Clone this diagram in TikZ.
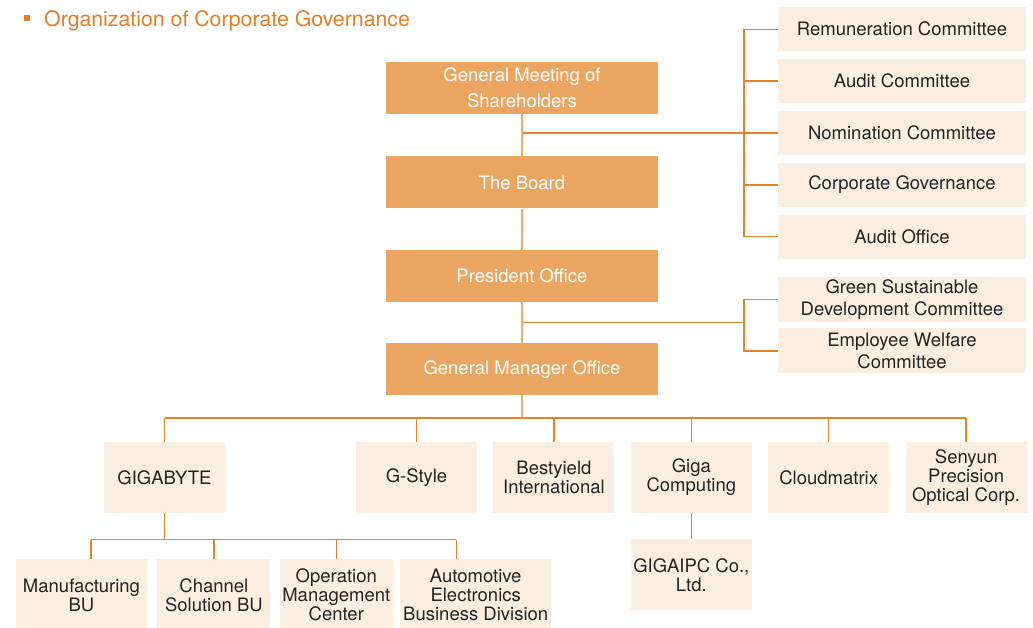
\documentclass[tikz,border=0pt]{standalone}
\usepackage{fontspec}
\setmainfont{TeX Gyre Heros}
\usetikzlibrary{positioning, calc}
\definecolor{govorange}{RGB}{231,125,35}
\definecolor{boxorange}{RGB}{234,166,96}
\definecolor{boxcream}{RGB}{251,238,225}
\definecolor{linkorange}{RGB}{228,130,42}
\definecolor{stemorange}{RGB}{236,172,104}
\definecolor{textgray}{RGB}{35,35,35}

\begin{document}
\begin{tikzpicture}[
    x=1pt, y=-1pt,
    node distance=8pt,
    office/.style={rectangle, fill=boxorange, text=white, minimum width=272pt, minimum height=52pt, inner sep=0pt, align=center, font=\fontsize{18.5}{26}\selectfont},
    committee/.style={rectangle, fill=boxcream, text=textgray, minimum width=248pt, minimum height=44.5pt, inner sep=0pt, align=center, font=\fontsize{18.5}{22}\selectfont},
    unit/.style={rectangle, fill=boxcream, text=textgray, minimum width=121pt, minimum height=71pt, inner sep=0pt, align=center, font=\fontsize{18.5}{19}\selectfont},
    stem/.style={stemorange, line width=1.6pt},
    branch/.style={linkorange, line width=1.3pt}
]
\useasboundingbox (0,0) rectangle (1033,628);

% heading
\fill[govorange] (23.5,15) rectangle (29.5,21);
\node[anchor=base west, inner sep=0pt, text=govorange, font=\fontsize{21.3}{21.3}\selectfont] (title) at (44,27) {Organization of Corporate Governance};

% main chain
\node[office] (gms) at (522,88) {General Meeting of\\Shareholders};
\node[office, below=42pt of gms] (board) {The Board};
\node[office, below=41pt of board] (president) {President Office};
\node[office, below=41pt of president] (gmo) {General Manager Office};

% committees under the board
\node[committee] (rem) at (902,29.25) {Remuneration Committee};
\node[committee, below=7pt of rem] (aud) {Audit Committee};
\node[committee, below=7pt of aud] (nom) {Nomination Committee};
\node[committee, below=7pt of nom] (cg) {Corporate Governance};
\node[committee, below=7pt of cg] (ao) {Audit Office};
\node[committee, minimum height=45pt] (green) at (902,299.5) {Green Sustainable\\Development Committee};
\node[committee, minimum height=45pt, below=6pt of green] (emp) {Employee Welfare\\Committee};

% subsidiaries
\node[unit] (gigabyte) at (164.5,477.5) {GIGABYTE};
\node[unit] (gstyle) at (416.5,477.5) {G-Style};
\node[unit, right=16pt of gstyle] (bestyield) {Bestyield\\International};
\node[unit, right=16pt of bestyield] (giga) {Giga\\Computing};
\node[unit, right=16pt of giga] (cloud) {Cloudmatrix};
\node[unit, right=16pt of cloud] (senyun) {Senyun\\Precision\\Optical Corp.};
\node[unit, below=26pt of giga] (gigaipc) {GIGAIPC Co.,\\Ltd.};

% business units of GIGABYTE
\node[unit, minimum width=131pt, minimum height=72pt] (mfg) at (81.5,595) {Manufacturing\\BU};
\node[unit, minimum width=113pt, minimum height=72pt, right=10pt of mfg] (channel) {Channel\\Solution BU};
\node[unit, minimum width=113pt, minimum height=72pt, right=9pt of channel] (operation) {Operation\\Management\\Center};
\node[unit, minimum width=151pt, minimum height=72pt, right=7pt of operation] (auto) {Automotive\\Electronics\\Business Division};

% connectors
\coordinate (cbar) at (744,0);
\coordinate (unitbus) at (0,418);
\coordinate (subbus) at (0,540);
\coordinate (gbranch) at ($(president.south)!.5!(gmo.north)$);

\draw[branch] (gms.south |- nom.west) -- (nom.west);
\draw[branch] (rem.west) -- (rem.west -| cbar) -- (ao.west -| cbar) -- (ao.west);
\foreach \n in {aud, cg}
    \draw[branch] (\n.west) -- (\n.west -| cbar);
\draw[branch] (gbranch) -- (gbranch -| cbar);
\draw[branch] (green.west) -- (green.west -| cbar) -- (emp.west -| cbar) -- (emp.west);

\draw[stem] (gms) -- (board);
\draw[stem] (board) -- (president);
\draw[stem] (president) -- (gmo);
\draw[stem] (gmo.south) -- (gmo.south |- unitbus);

\draw[branch] (gigabyte.north |- unitbus) -- (senyun.north |- unitbus);
\foreach \n in {gigabyte, gstyle, bestyield, giga, cloud, senyun}
    \draw[branch] (\n.north |- unitbus) -- (\n.north);
\draw[branch] (giga.south) -- (gigaipc.north);

\draw[branch] (gigabyte.south) -- (gigabyte.south |- subbus);
\draw[branch] ($(mfg.north)+(9.5,-19)$) -- ($(auto.north)+(-19.5,-19)$);
\foreach \n/\dx in {mfg/9.5, channel/0, operation/0, auto/-19.5}
    \draw[branch] ($(\n.north)+(\dx,0)$) -- ++(0,-19);
\end{tikzpicture}
\end{document}
